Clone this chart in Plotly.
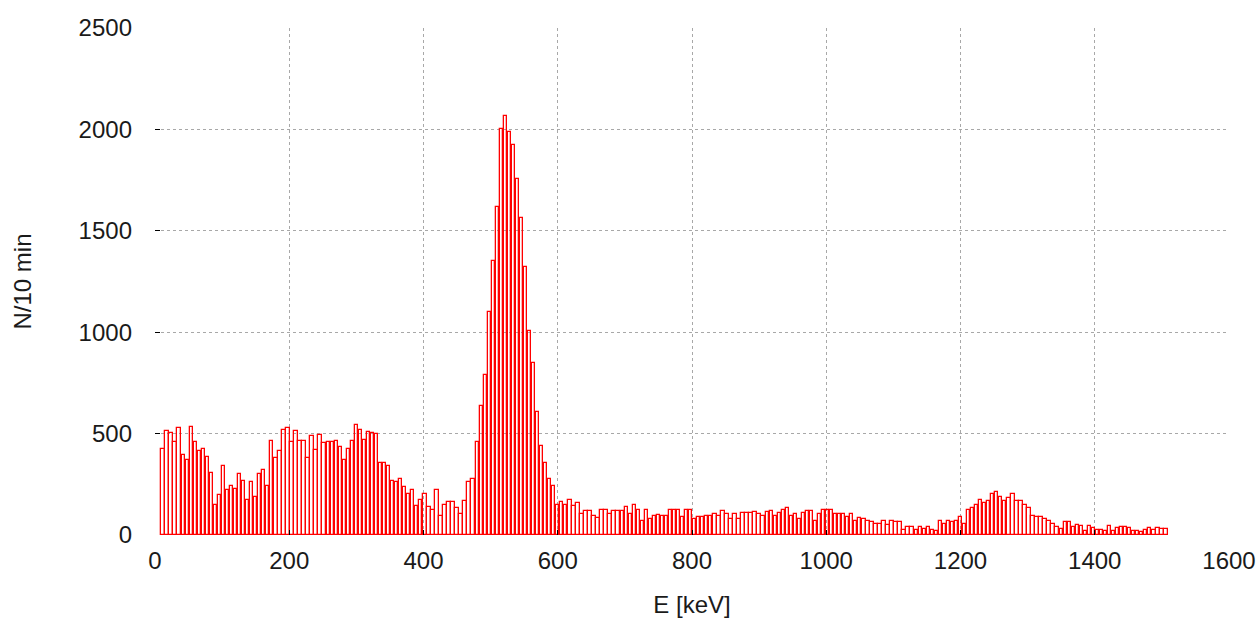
import plotly.graph_objects as go

# Histogram counts per 6 keV bin (bin centres 12, 18, ..., 1506 keV)
bin_first_center = 12
bin_width = 6
counts = [
    424, 511, 503, 457, 526, 395, 370, 534, 457, 416,
    424, 386, 306, 148, 197, 339, 222, 243, 227, 299,
    268, 174, 260, 189, 299, 320, 243, 465, 378, 416,
    519, 528, 457, 511, 465, 465, 378, 490, 419, 495,
    452, 457, 457, 465, 432, 370, 424, 465, 544, 519,
    470, 510, 505, 500, 355, 355, 342, 268, 260, 276,
    235, 202, 222, 145, 173, 204, 136, 125, 222, 95,
    150, 164, 164, 135, 102, 166, 260, 276, 457, 638,
    788, 1101, 1350, 1618, 2003, 2068, 1988, 1925, 1753, 1564,
    1321, 1004, 848, 605, 441, 355, 276, 243, 148, 164,
    148, 174, 145, 156, 104, 117, 117, 92, 84, 125,
    125, 102, 117, 117, 117, 140, 102, 148, 125, 71,
    125, 79, 92, 100, 92, 92, 125, 125, 125, 87,
    125, 125, 79, 87, 87, 95, 95, 104, 95, 117,
    104, 79, 104, 79, 108, 108, 108, 112, 104, 95,
    112, 117, 92, 108, 125, 133, 92, 104, 79, 110,
    117, 117, 71, 104, 125, 125, 125, 104, 104, 104,
    87, 104, 71, 82, 79, 71, 62, 54, 54, 71,
    50, 71, 62, 62, 26, 38, 38, 26, 38, 30,
    38, 26, 21, 71, 54, 71, 66, 71, 87, 54,
    125, 133, 150, 174, 158, 166, 202, 210, 189, 169,
    181, 202, 166, 169, 148, 133, 95, 87, 87, 79,
    67, 54, 38, 30, 66, 66, 38, 49, 46, 21,
    43, 33, 26, 26, 21, 46, 21, 33, 38, 38,
    33, 21, 21, 16, 26, 33, 26, 33, 30, 30,
]
energy = [bin_first_center + bin_width * k for k in range(len(counts))]

x_ticks = [0, 200, 400, 600, 800, 1000, 1200, 1400, 1600]
y_ticks = [0, 500, 1000, 1500, 2000, 2500]

fig = go.Figure()
fig.add_trace(go.Bar(
    x=energy,
    y=counts,
    width=5.0,
    marker=dict(color="rgba(255,255,255,0)", line=dict(color="#ff0000", width=1.3)),
    showlegend=False,
))

font = dict(family="Liberation Sans, Arial, sans-serif", size=24, color="#1a1a1a")

fig.update_layout(
    width=1260, height=622,
    margin=dict(l=155, r=31, t=28, b=87),
    paper_bgcolor="white", plot_bgcolor="white",
    font=font,
    bargap=0,
    xaxis=dict(
        range=[0, 1600], tickvals=x_ticks,
        showline=False, zeroline=False, automargin=False,
        showgrid=True, gridcolor="#a8a8a8", griddash="dot", gridwidth=1,
        ticks="inside", ticklen=5, tickcolor="black", tickwidth=1,
        ticklabelstandoff=9,
        title=dict(text="E [keV]", standoff=23, font=font),
        tickfont=font,
    ),
    yaxis=dict(
        range=[0, 2500], tickvals=y_ticks,
        showline=False, zeroline=False, automargin=False,
        showgrid=True, gridcolor="#a8a8a8", griddash="dot", gridwidth=1,
        ticks="inside", ticklen=5, tickcolor="black", tickwidth=1,
        ticklabelstandoff=22,
        title=dict(text="N/10 min", standoff=40, font=font),
        tickfont=font,
    ),
)

fig.write_html(
    "out.html",
    config={"displayModeBar": False},
    post_script="document.body.style.margin='0px';document.body.style.overflow='hidden';",
)
